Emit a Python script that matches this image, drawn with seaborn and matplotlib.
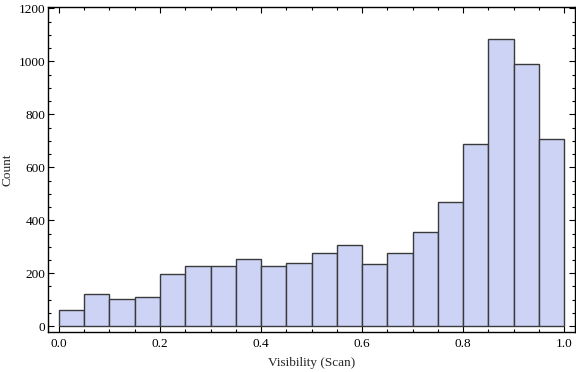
import numpy as np
import pandas as pd
import seaborn as sns
import matplotlib
matplotlib.use("Agg")
from matplotlib import pyplot
from matplotlib.ticker import MultipleLocator

# histogram bins (edges) and counts
bin_edges = [0.0, 0.05, 0.1, 0.15, 0.2, 0.25, 0.3, 0.35, 0.4, 0.45, 0.5,
             0.55, 0.6, 0.65, 0.7, 0.75, 0.8, 0.85, 0.9, 0.95, 1.0]
counts = [60, 121, 102, 109, 196, 226, 226, 253, 226, 238,
          275, 306, 234, 275, 355, 469, 690, 1083, 990, 706]
x_label = "Visibility (Scan)"
y_label = "Count"

edges = np.array(bin_edges)
centers = (edges[:-1] + edges[1:]) / 2
df = pd.DataFrame({"visibility": centers, "count": counts})

sns.set_style("ticks")
pyplot.rcParams["font.family"] = ["Liberation Serif", "DejaVu Serif"]

fig = pyplot.figure(figsize=(5.76, 3.72), dpi=100)
ax = fig.add_axes([0.0839, 0.1075, 0.9149, 0.8725])

sns.histplot(
    data=df,
    x="visibility",
    weights="count",
    bins=bin_edges,
    color="#CCD3F5",
    alpha=1,
    edgecolor="#3a3a3a",
    linewidth=1.0,
    ax=ax,
)

ax.set_xlim(-0.021, 1.022)
ax.set_ylim(-22, 1204)
ax.set_xlabel(x_label, fontsize=9.5)
ax.set_ylabel(y_label, fontsize=9.5)
ax.xaxis.set_label_coords(0.5, -0.078)
ax.yaxis.set_label_coords(-0.066, 0.5)

ax.xaxis.set_minor_locator(MultipleLocator(0.05))
ax.yaxis.set_major_locator(MultipleLocator(200))
ax.yaxis.set_minor_locator(MultipleLocator(50))
ax.set_xticks([0.0, 0.2, 0.4, 0.6, 0.8, 1.0])
ax.set_xticklabels(["0.0", "0.2", "0.4", "0.6", "0.8", "1.0"])

ax.tick_params(which="both", direction="in", top=True, right=True,
               labelsize=9.5, width=0.8, colors="black")
ax.tick_params(which="major", length=4)
ax.tick_params(which="minor", length=2.5)
ax.tick_params(axis="y", which="major", pad=2)
ax.tick_params(axis="x", which="major", pad=4)

for s in ax.spines.values():
    s.set_visible(True)
    s.set_linewidth(1.0)
    s.set_color("black")

fig.savefig("out.png", dpi=100)
